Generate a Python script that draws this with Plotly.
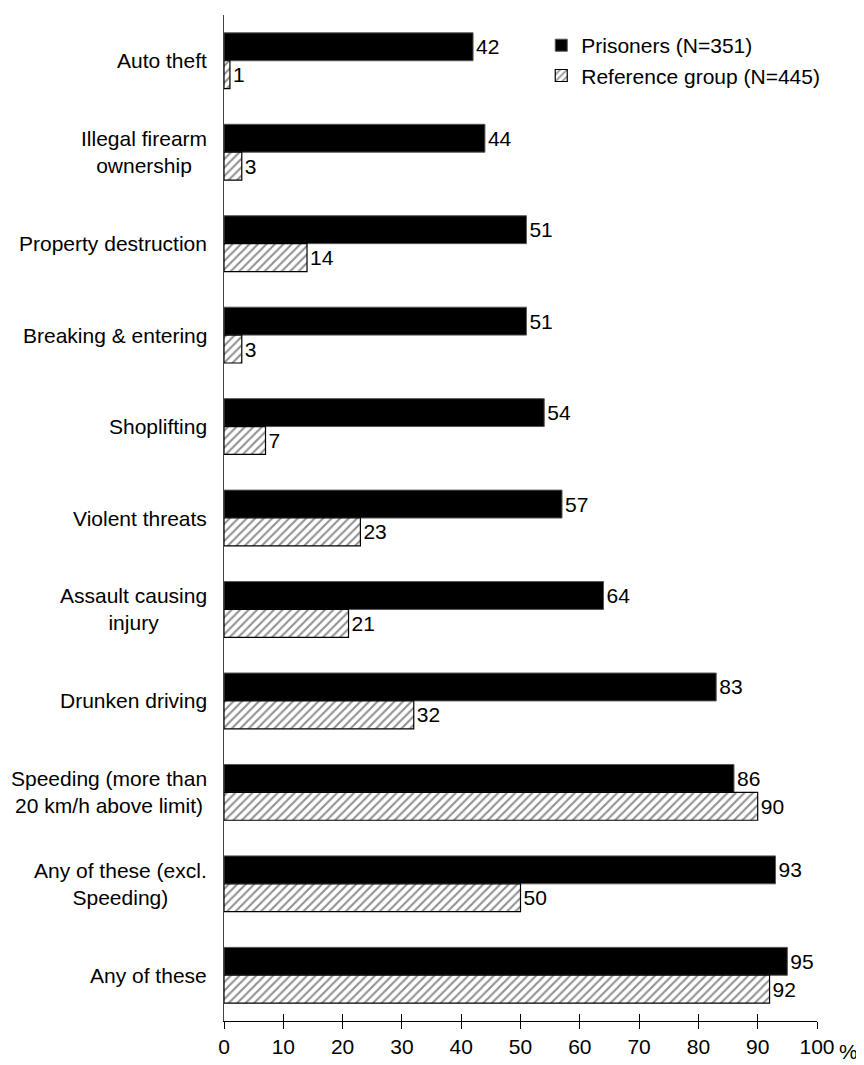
import plotly.graph_objects as go

categories = ["Auto theft", "Illegal firearm<br>ownership", "Property destruction",
              "Breaking & entering", "Shoplifting", "Violent threats",
              "Assault causing<br>injury", "Drunken driving",
              "Speeding (more than<br>20 km/h above limit)",
              "Any of these (excl.<br>Speeding)", "Any of these"]
prisoners = [42, 44, 51, 51, 54, 57, 64, 83, 86, 93, 95]
reference = [1, 3, 14, 3, 7, 23, 21, 32, 90, 50, 92]
xticks = [0, 10, 20, 30, 40, 50, 60, 70, 80, 90, 100]

FONT = "Liberation Sans, Arial, sans-serif"
FS = 21

fig = go.Figure()
fig.add_trace(go.Bar(
    y=categories, x=prisoners, orientation="h", name="Prisoners (N=351)",
    marker=dict(color="black", line=dict(color="#555", width=1)),
    text=[str(v) for v in prisoners], textposition="outside",
    textfont=dict(family=FONT, size=FS, color="black"), cliponaxis=False,
))
fig.add_trace(go.Bar(
    y=categories, x=reference, orientation="h", name="Reference group (N=445)",
    marker=dict(color="white", line=dict(color="black", width=1.2),
                pattern=dict(shape="/", fgcolor="#222", bgcolor="white",
                             size=6, solidity=0.35)),
    text=[str(v) for v in reference], textposition="outside",
    textfont=dict(family=FONT, size=FS, color="black"), cliponaxis=False,
))

for c in categories:
    fig.add_annotation(x=0, xref="paper", y=c, yref="y", text=c, showarrow=False,
                       xanchor="right", align="center", xshift=-15,
                       font=dict(family=FONT, size=FS, color="black"))

fig.add_annotation(x=1, xref="paper", y=0, yref="paper", text="%", showarrow=False,
                   xanchor="left", yanchor="middle", xshift=20, yshift=-30,
                   font=dict(family=FONT, size=FS, color="black"))

fig.update_layout(
    width=856, height=1057,
    margin=dict(l=216, r=47, t=7, b=34),
    paper_bgcolor="white", plot_bgcolor="white",
    barmode="group", bargap=0.39, bargroupgap=0,
    font=dict(family=FONT, size=FS, color="black"),
    showlegend=True,
    legend=dict(x=0.535, y=0.99, xanchor="left", yanchor="top",
                font=dict(family=FONT, size=FS, color="black"),
                bgcolor="rgba(0,0,0,0)", tracegroupgap=2, itemwidth=30),
    xaxis=dict(range=[0, 100], tickvals=xticks,
               ticktext=[str(v) for v in xticks],
               showgrid=False, zeroline=False, showline=True, linecolor="black",
               linewidth=1, ticks="outside", ticklen=7, tickcolor="black",
               tickfont=dict(family=FONT, size=FS, color="black")),
    xaxis2=dict(range=[0, 100], overlaying="x", anchor="y", side="bottom",
                tickvals=xticks[1:], showticklabels=False, ticks="inside",
                ticklen=7, tickcolor="black", showgrid=False, zeroline=False,
                showline=False),
    yaxis=dict(autorange="reversed", showticklabels=False, showgrid=False,
               zeroline=False, showline=True, linecolor="#444", linewidth=1,
               ticks=""),
)
fig.add_trace(go.Scatter(x=[None], y=[None], xaxis="x2", showlegend=False,
                         hoverinfo="skip"))

fig.write_html("out.html")
